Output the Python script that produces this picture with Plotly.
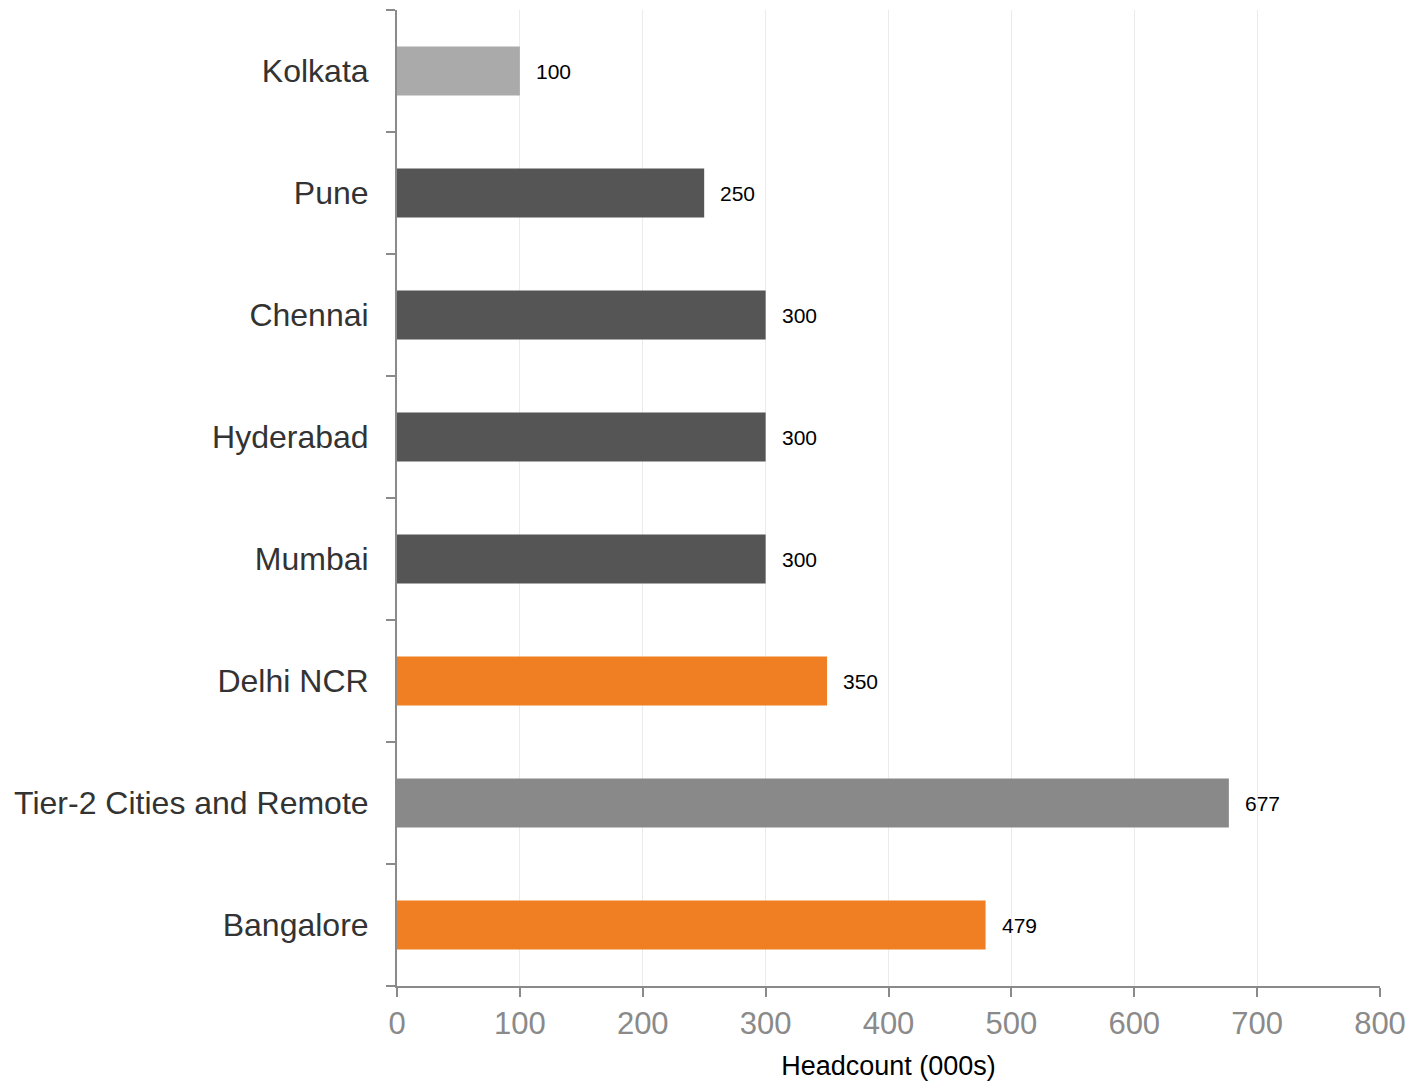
import plotly.graph_objects as go

# Headcount by location (thousands), listed bottom to top
cities = ["Bangalore", "Tier-2 Cities and Remote", "Delhi NCR", "Mumbai",
          "Hyderabad", "Chennai", "Pune", "Kolkata"]
headcount = [479, 677, 350, 300, 300, 300, 250, 100]
bar_colors = ["#F07F23", "#898989", "#F07F23", "#555555",
              "#555555", "#555555", "#555555", "#AAAAAA"]
x_ticks = [0, 100, 200, 300, 400, 500, 600, 700, 800]

FONT = "Liberation Sans, Arial, sans-serif"

fig = go.Figure(
    go.Bar(
        y=cities,
        x=headcount,
        orientation="h",
        marker=dict(color=bar_colors, line=dict(width=0)),
        hoverinfo="skip",
    )
)

# value labels just past the end of each bar
for city, val in zip(cities, headcount):
    fig.add_annotation(
        x=val, y=city, text=str(val), showarrow=False,
        xanchor="left", yanchor="middle", xshift=14,
        font=dict(family=FONT, size=21, color="#000000"),
    )

fig.update_layout(
    width=1411, height=1081,
    margin=dict(l=397, r=31, t=10, b=95, autoexpand=False),
    paper_bgcolor="white", plot_bgcolor="white",
    bargap=0.6,
    showlegend=False,
    font=dict(family=FONT),
)

fig.update_xaxes(
    range=[0, 800],
    tickvals=x_ticks,
    ticktext=[str(v) for v in x_ticks],
    showgrid=True, gridcolor="#EBEBEB", gridwidth=1,
    zeroline=False,
    showline=True, linecolor="#8A8A8A", linewidth=2,
    ticks="outside", ticklen=9, tickwidth=2, tickcolor="#8A8A8A",
    tickfont=dict(family=FONT, size=31, color="#8A8A8A"),
    title=dict(text="Headcount (000s)",
               font=dict(family=FONT, size=27, color="#000000"),
               standoff=16),
    automargin=False,
)

fig.update_yaxes(
    categoryorder="array", categoryarray=cities,
    showgrid=False, zeroline=False,
    showline=True, linecolor="#8A8A8A", linewidth=2,
    ticks="outside", tickson="boundaries", ticklen=9, tickwidth=2,
    tickcolor="#8A8A8A",
    tickfont=dict(family=FONT, size=32, color="#333333"),
    ticklabelstandoff=20,
    automargin=False,
)

fig.write_html("out.html")
